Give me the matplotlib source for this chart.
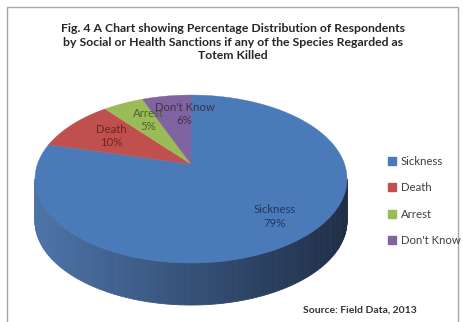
import numpy as np
import matplotlib
matplotlib.use("Agg")
from matplotlib import pyplot as plt
from matplotlib.patches import Polygon, Patch, Rectangle
from matplotlib.colors import to_rgb

# data
categories = ["Sickness", "Death", "Arrest", "Don't Know"]
values = [79, 10, 5, 6]
colors = ["#4A7AB8", "#C0504D", "#9BBB59", "#8064A2"]
label_colors = ["#1F3A62", "#6E2422", "#4F6228", "#3F3151"]
title = ("Fig. 4 A Chart showing Percentage Distribution of Respondents\n"
         "by Social or Health Sanctions if any of the Species Regarded as\n"
         "Totem Killed")
source = "Source: Field Data, 2013"

plt.rcParams["font.family"] = ["Lato", "DejaVu Sans"]

fig = plt.figure(figsize=(4.64, 3.22), dpi=100)
ax = fig.add_axes([0, 0, 1, 1])
ax.set_xlim(0, 464)
ax.set_ylim(322, 0)
ax.axis("off")

# pie geometry (pixels) - apex, scale, perspective, depth
cx, cy = 191, 164
sx, sy = 153.5, 81.3
p = 0.179
depth = 42


def proj(theta, r=1.0):
    t = np.radians(theta)
    d = 1 + p * r * np.sin(t)
    return cx + sx * r * np.cos(t) / d, cy - sy * r * np.sin(t) / d


# wedge angles: start at 12 o'clock, clockwise
fracs = np.array(values) / sum(values)
ends = 90 - 360 * np.cumsum(fracs)
starts = np.concatenate([[90], ends[:-1]])

# side band (front half only), drawn in thin strips for shading
lim = np.degrees(np.arcsin(-p))  # where the outline is vertical
side_lo, side_hi = 180 - lim, 360 + lim
dark0 = np.array(to_rgb("#4C73A8"))
dark1 = np.array(to_rgb("#202F48"))
for i in range(len(values)):
    a0, a1 = ends[i] % 360, starts[i] % 360
    if a1 <= a0:
        a1 += 360
    for off in (0, 360):
        lo = max(a0 + off, side_lo)
        hi = min(a1 + off, side_hi)
        if hi <= lo:
            continue
        base = np.array(to_rgb(colors[i]))
        edges = np.linspace(lo, hi, 120)
        for e0, e1 in zip(edges[:-1], edges[1:]):
            th = np.linspace(e0, e1, 3)
            x, y = proj(th)
            pts = np.column_stack([np.r_[x, x[::-1]], np.r_[y, y[::-1] + depth]])
            f = (np.mean(x) - (cx - sx)) / (2 * sx)
            shade = dark0 * (1 - f) + dark1 * f
            col = base * 0.25 + shade * 0.75 if i else shade
            ax.add_patch(Polygon(pts, closed=True, fc=col, ec=col, lw=0.6))

# top faces
for i in range(len(values)):
    th = np.linspace(starts[i], ends[i], 200)
    x, y = proj(th)
    pts = np.column_stack([np.r_[cx, x], np.r_[cy, y]])
    ax.add_patch(Polygon(pts, closed=True, fc=colors[i], ec=colors[i], lw=0.3))

# data labels
for i in range(len(values)):
    mid = (starts[i] + ends[i]) / 2
    lx, ly = proj(mid, 0.72)
    if i == 3:
        lx += 4  # nudge away from Arrest label
    ax.text(lx + 8, ly + 1, f"{categories[i]}\n{values[i]}%", ha="center", va="center",
            fontsize=8.2, color=label_colors[i], linespacing=1.25)

# title and source
ax.text(233, 42, title, ha="center", va="center", fontsize=8.8, fontweight="bold",
        color="#262626", linespacing=1.3)
ax.text(360, 310, source, ha="center", va="center", fontsize=7.5, fontweight="bold",
        color="#333333")

# chart frame
ax.add_patch(Rectangle((7, 7), 451, 330, fill=False, ec="#A6A6A6", lw=1))

# legend
handles = [Patch(fc=c, ec=c) for c in colors]
fig.legend(handles, categories, loc="center left", bbox_to_anchor=(378 / 464, 1 - 201 / 322),
           frameon=False, fontsize=8.2, handlelength=0.7, handleheight=0.7,
           handletextpad=0.4, labelspacing=1.35, labelcolor="#404040")

fig.savefig("out.png", dpi=100)
